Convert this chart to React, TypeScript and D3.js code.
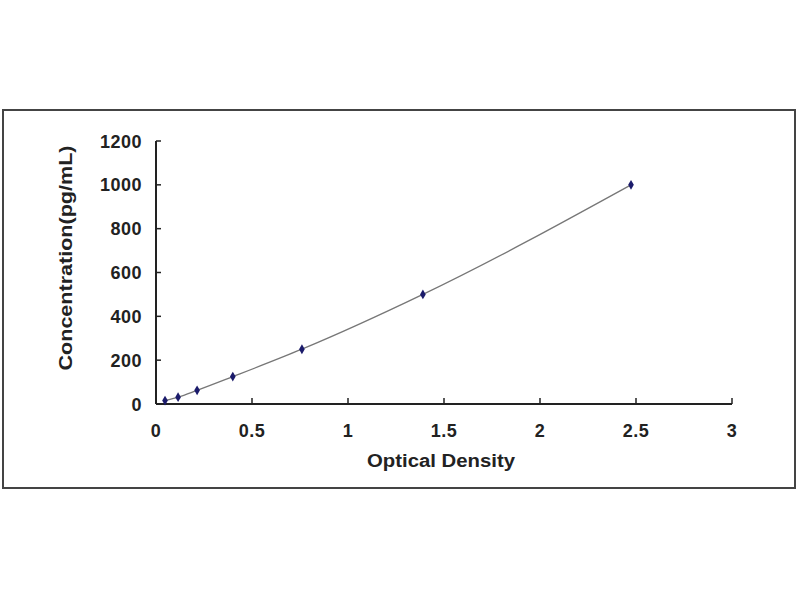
import React from "react";
import * as d3 from "d3";

const odValues: number[] = [0.047, 0.115, 0.214, 0.4, 0.76, 1.39, 2.474];
const concValues: number[] = [15.6, 31.25, 62.5, 125, 250, 500, 1000];
const xTicks: number[] = [0, 0.5, 1, 1.5, 2, 2.5, 3];
const yTicks: number[] = [0, 200, 400, 600, 800, 1000, 1200];
const xTitle = "Optical Density";
const yTitle = "Concentration(pg/mL)";

export default function App() {
  const W = 800;
  const H = 600;
  const left = 156;
  const right = 732;
  const top = 141;
  const bottom = 404;
  const x = d3.scaleLinear().domain([0, 3]).range([left, right]);
  const y = d3.scaleLinear().domain([0, 1200]).range([bottom, top]);
  const pts = odValues.map((d, i) => [d, concValues[i]] as [number, number]);
  const line = d3
    .line<[number, number]>()
    .x((d) => x(d[0]))
    .y((d) => y(d[1]))
    .curve(d3.curveMonotoneX);
  const font = "'Liberation Sans', Arial, sans-serif";
  const diamond = d3.symbol().type(d3.symbolDiamond).size(28)();
  return (
    <svg
      width={W}
      height={H}
      style={{ position: "absolute", left: 0, top: 0, background: "#fff" }}
      fontFamily={font}
    >
      <rect x={0} y={0} width={W} height={H} fill="#fff" />
      <rect x={3} y={110} width={792} height={378} fill="#fff" stroke="#444" strokeWidth={2} />
      {/* axes */}
      <line x1={left} x2={left} y1={top} y2={bottom} stroke="#222" strokeWidth={2} />
      <line x1={left} x2={right} y1={bottom} y2={bottom} stroke="#222" strokeWidth={2} />
      {yTicks.map((t) => (
        <g key={"y" + t}>
          <line x1={left} x2={left + 5} y1={y(t)} y2={y(t)} stroke="#222" strokeWidth={1.5} />
          <text
            x={142}
            y={y(t) + 6.5}
            textAnchor="end"
            fontSize={18}
            fontWeight="bold"
            fill="#222"
            letterSpacing={0.5}
          >
            {t}
          </text>
        </g>
      ))}
      {xTicks.map((t) => (
        <g key={"x" + t}>
          <line x1={x(t)} x2={x(t)} y1={bottom} y2={bottom - 6} stroke="#222" strokeWidth={1.5} />
          <text
            x={x(t)}
            y={437}
            textAnchor="middle"
            fontSize={18}
            fontWeight="bold"
            fill="#222"
            letterSpacing={0.5}
          >
            {t}
          </text>
        </g>
      ))}
      <path d={line(pts) || ""} fill="none" stroke="#777" strokeWidth={1.3} />
      {pts.map((p, i) => (
        <path
          key={"p" + i}
          d={diamond || ""}
          transform={`translate(${x(p[0])},${y(p[1])})`}
          fill="#1b1b6b"
        />
      ))}
      <text
        x={441}
        y={467}
        textAnchor="middle"
        fontSize={18}
        fontWeight="bold"
        fill="#222"
        textLength={148}
        lengthAdjust="spacingAndGlyphs"
      >
        {xTitle}
      </text>
      <text
        transform={`translate(72,258) rotate(-90)`}
        textAnchor="middle"
        fontSize={18}
        fontWeight="bold"
        fill="#222"
        textLength={225}
        lengthAdjust="spacingAndGlyphs"
      >
        {yTitle}
      </text>
    </svg>
  );
}
